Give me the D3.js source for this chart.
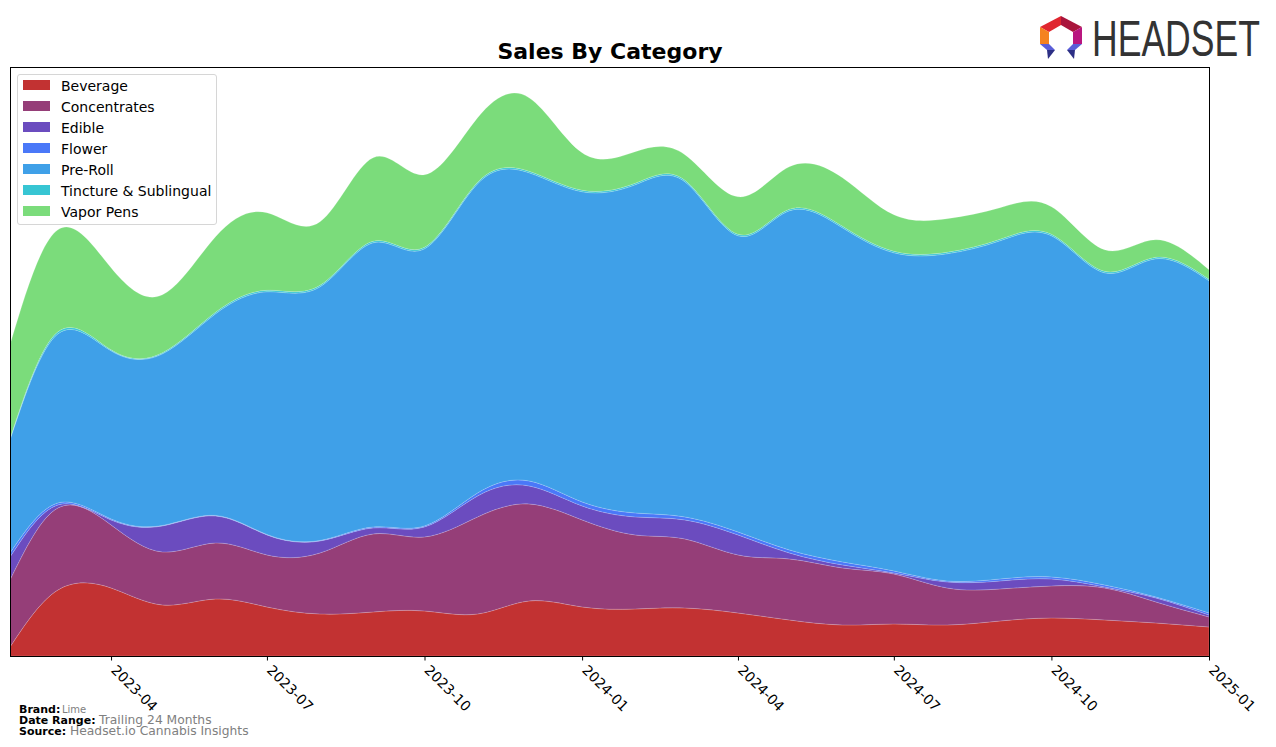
<!DOCTYPE html>
<html>
<head>
<meta charset="utf-8">
<script src="https://cdn.jsdelivr.net/npm/d3@7"></script>
<style>
  html, body { margin: 0; padding: 0; background: #fff; }
  svg { display: block; font-family: "DejaVu Sans", sans-serif; }
</style>
</head>
<body>
<svg id="chart" width="1276" height="747"></svg>
<script>
// ---- Data (monthly, Feb 2023 .. Jan 2025) ----
const months = ["2023-02","2023-03","2023-04","2023-05","2023-06","2023-07","2023-08","2023-09","2023-10","2023-11","2023-12",
  "2024-01","2024-02","2024-03","2024-04","2024-05","2024-06","2024-07","2024-08","2024-09","2024-10","2024-11","2024-12","2025-01"];
const categories = ["Beverage","Concentrates","Edible","Flower","Pre-Roll","Tincture & Sublingual","Vapor Pens"];
const beverage     = [9, 66, 68, 51, 57, 49, 42, 44, 45, 42, 55, 49, 47, 48, 43, 36, 31, 32, 31, 35, 38, 36, 33, 29];
const concentrates = [67, 82, 63, 53, 56, 52, 61, 78, 74, 97, 97, 87, 74, 69, 58, 61, 57, 50, 37, 32, 32, 32, 21, 10];
const edible       = [23, 3, 5, 26, 27, 20, 12, 6, 10, 21, 18, 14, 18, 19, 20, 6, 3, 1, 6, 8, 7, 1, 4, 2];
const flower       = [4, 2, 1, 0.5, 0.5, 0.5, 0.5, 1, 1, 3, 5, 4, 4, 3, 3, 3, 3, 2, 1, 2, 2, 2, 1, 2];
const preRoll      = [113, 169, 168, 171.5, 201.5, 242.5, 253.5, 284, 277, 309, 308, 310, 328, 335, 296, 339, 334, 318, 327, 338, 341, 312, 338, 332];
const tincture     = [1, 2, 1, 1, 1.5, 1.5, 1.5, 1.5, 1.5, 1.5, 1.5, 1.5, 1.5, 1.5, 1.5, 1.5, 1.5, 1.5, 1.5, 1.5, 1.5, 1.5, 1.5, 1.5];
const vaporPens    = [94, 102, 82, 58, 75.5, 77.5, 63.5, 83.5, 72.5, 64.5, 73.5, 37.5, 31.5, 25.5, 37.5, 42.5, 48.5, 36.5, 33.5, 31.5, 27.5, 21.5, 17.5, 9.5];
const tickLabels = ["2023-04","2023-07","2023-10","2024-01","2024-04","2024-07","2024-10","2025-01"];
const colors = ["#c23232", "#953e78", "#6b4cbf", "#4a78f8", "#3fa0e8", "#37c5d3", "#7bdc7b"];

// ---- Build table ----
const parse = d3.timeParse("%Y-%m");
const series = [beverage, concentrates, edible, flower, preRoll, tincture, vaporPens];
const table = months.map((m, i) => {
  const row = { date: parse(m) };
  categories.forEach((c, k) => row[c] = series[k][i]);
  return row;
});

const svg = d3.select("#chart");
const plot = { left: 10, right: 1209, top: 67, bottom: 656 };

const x = d3.scaleTime()
  .domain(d3.extent(table, d => d.date))
  .range([plot.left, plot.right]);

const totals = table.map(r => d3.sum(categories, c => r[c]));
const y = d3.scaleLinear()
  .domain([0, d3.max(totals) * 1.055])
  .range([plot.bottom, plot.top]);

const stack = d3.stack().keys(categories);
const layers = stack(table);

svg.append("defs").append("clipPath").attr("id", "clip")
  .append("rect")
  .attr("x", plot.left).attr("y", plot.top)
  .attr("width", plot.right - plot.left).attr("height", plot.bottom - plot.top);

const area = d3.area()
  .curve(d3.curveNatural)
  .x(d => x(d.data.date))
  .y0(d => y(d[0]))
  .y1(d => y(d[1]));

svg.append("g").attr("clip-path", "url(#clip)")
  .selectAll("path")
  .data(layers)
  .join("path")
  .attr("d", area)
  .attr("fill", (d, i) => colors[i])
  .attr("stroke", "rgba(255,255,255,0.28)")
  .attr("stroke-width", 0.6);

// ---- Frame ----
svg.append("rect")
  .attr("x", plot.left + 0.5).attr("y", plot.top + 0.5)
  .attr("width", plot.right - plot.left).attr("height", plot.bottom - plot.top)
  .attr("fill", "none").attr("stroke", "#000").attr("stroke-width", 1);

// ---- X axis ----
const tickDates = tickLabels.map(parse);
const xAxis = d3.axisBottom(x)
  .tickValues(tickDates)
  .tickFormat(d3.timeFormat("%Y-%m"))
  .tickSize(4)
  .tickSizeOuter(0);
const gx = svg.append("g")
  .attr("transform", `translate(0,${plot.bottom + 0.5})`)
  .call(xAxis);
gx.select(".domain").remove();
gx.selectAll(".tick line").attr("stroke", "#000").attr("stroke-width", 1);
gx.selectAll(".tick text")
  .attr("font-family", "DejaVu Sans, sans-serif")
  .attr("font-size", 14)
  .attr("fill", "#000")
  .attr("text-anchor", "start")
  .attr("x", 0).attr("y", 0).attr("dy", "0.75em")
  .attr("transform", "translate(6,7) rotate(45)");

// ---- Title ----
svg.append("text")
  .attr("x", 610).attr("y", 59)
  .attr("text-anchor", "middle")
  .attr("font-size", 22).attr("font-weight", "bold")
  .attr("fill", "#000")
  .text("Sales By Category");

// ---- Legend ----
const lg = svg.append("g");
lg.append("rect")
  .attr("x", 17.5).attr("y", 74.5).attr("width", 199).attr("height", 150)
  .attr("rx", 2.5).attr("fill", "#fff").attr("fill-opacity", 0.8)
  .attr("stroke", "#d6d6d6").attr("stroke-width", 1);
categories.forEach((c, i) => {
  const yy = 80 + i * 21;
  lg.append("rect").attr("x", 23).attr("y", yy).attr("width", 27).attr("height", 10).attr("fill", colors[i]);
  lg.append("text").attr("x", 61).attr("y", yy + 10.5)
    .attr("font-size", 14).attr("fill", "#000").text(c);
});

// ---- Footer ----
const foot = [
  { label: "Brand:", value: "Lime", y: 713, vx: 62, vs: 10 },
  { label: "Date Range:", value: "Trailing 24 Months", y: 724, vx: 99, vs: 12.3 },
  { label: "Source:", value: "Headset.io Cannabis Insights", y: 735, vx: 70, vs: 12.3 }
];
foot.forEach(f => {
  svg.append("text").attr("x", 19).attr("y", f.y).attr("font-size", 11).attr("font-weight", "bold").attr("fill", "#000").text(f.label);
  svg.append("text").attr("x", f.vx).attr("y", f.y).attr("font-size", f.vs).attr("fill", "#808080").text(f.value);
});

// ---- Logo ----
const logo = svg.append("g");
const polys = [
  { p: [[1040,27],[1061,16],[1061,25],[1049,32]], c: "#e0262f" },
  { p: [[1061,16],[1082,27],[1073,32],[1061,25]], c: "#a9153c" },
  { p: [[1040,27],[1049,32],[1049,44],[1040,44]], c: "#f5821f" },
  { p: [[1082,27],[1082,44],[1073,44],[1073,32]], c: "#b9167f" },
  { p: [[1040,44],[1049,44],[1055,50],[1047,50]], c: "#5a5ed8" },
  { p: [[1047,50],[1055,50],[1048,59]], c: "#2c2f85" },
  { p: [[1082,44],[1073,44],[1067,50],[1075,50]], c: "#5a5ed8" },
  { p: [[1075,50],[1067,50],[1074,59]], c: "#2c2f85" }
];
polys.forEach(o => logo.append("polygon").attr("points", o.p.map(q => q.join(",")).join(" ")).attr("fill", o.c));
logo.append("text")
  .attr("transform", "translate(1092,56) scale(0.847,1.18)")
  .attr("x", 0).attr("y", 0)
  .attr("font-family", "Liberation Sans, sans-serif")
  .attr("font-size", 42)
  .attr("fill", "#333")
  .text("HEADSET");
</script>
</body>
</html>
